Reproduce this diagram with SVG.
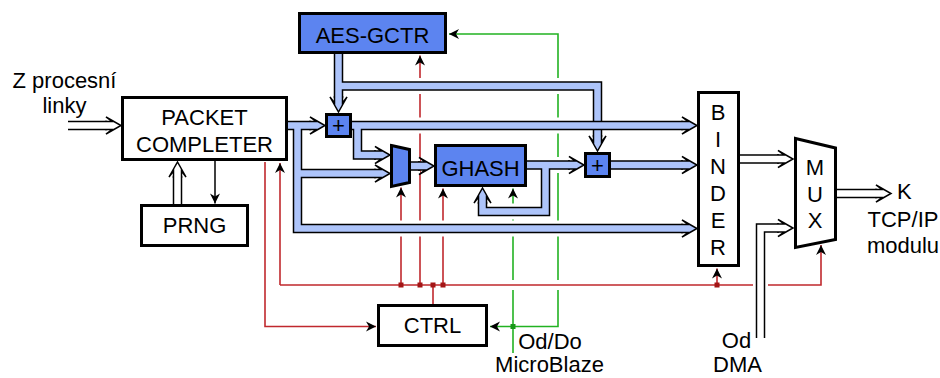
<svg xmlns="http://www.w3.org/2000/svg" width="940" height="378" viewBox="0 0 940 378">
<style>
.bx{fill:#fff;stroke:#000;stroke-width:3}
.bb{fill:#5c84f0;stroke:#000;stroke-width:3}
.t{font-family:"Liberation Sans",Arial,sans-serif;font-size:22px;fill:#000}
.m{text-anchor:middle}
.halo{fill:none;stroke:#fff;stroke-width:16}
.bk{fill:none;stroke:#000;stroke-width:9.5}
.bl{fill:none;stroke:#adc4fa;stroke-width:6.5}
.wh{fill:none;stroke:#fff;stroke-width:6.5}
.r{fill:none;stroke:#c0282d;stroke-width:1.6}
.g{fill:none;stroke:#22b222;stroke-width:1.6}
.jr{fill:#a31515}
.jg{fill:#189818}
</style>
<defs>
<marker id="ma" viewBox="-11 -6 12 12" refX="0" refY="0" markerWidth="12" markerHeight="12" markerUnits="userSpaceOnUse" orient="auto">
<path d="M0,0 L-10,-5 L-7,0 L-10,5Z" fill="#000"/>
</marker>
<path id="ahb" d="M-16,-4 L-9,-4 L-15,-8.5 L0,0 L-15,8.5 L-9,4 L-16,4" fill="#adc4fa" stroke="#000" stroke-width="1.5"/>
<path id="ahw" d="M-16,-4 L-9,-4 L-15,-8.5 L0,0 L-15,8.5 L-9,4 L-16,4" fill="#fff" stroke="#000" stroke-width="1.5"/>
</defs>

<g id="connectors">
<!-- green control lines -->
<path class="g" d="M558,280 L558,34 L449,34" marker-end="url(#ma)"/>
<path class="g" d="M558,290 L558,326.5 L490,326.5" marker-end="url(#ma)"/>
<path class="g" d="M513,353 L513,290"/>
<path class="g" d="M513,280 L513,188.5" marker-end="url(#ma)"/>
<rect class="jg" x="510.5" y="324" width="5" height="5"/>
<!-- red control lines -->
<path class="r" d="M265,162 L265,326.5 L376,326.5" marker-end="url(#ma)"/>
<path class="r" d="M280,285 L280,163" marker-end="url(#ma)"/>
<path class="r" d="M280,285 L821,285 L821,245" marker-end="url(#ma)"/>
<path class="r" d="M401,285 L401,187.5" marker-end="url(#ma)"/>
<path class="r" d="M420,285 L420,55.5" marker-end="url(#ma)"/>
<path class="r" d="M433,285 L433,304"/>
<path class="r" d="M443,285 L443,188.5" marker-end="url(#ma)"/>
<path class="r" d="M717,285 L717,268.5" marker-end="url(#ma)"/>
<rect class="jr" x="398.5" y="282.5" width="5" height="5"/>
<rect class="jr" x="417.5" y="282.5" width="5" height="5"/>
<rect class="jr" x="430.5" y="282.5" width="5" height="5"/>
<rect class="jr" x="440.5" y="282.5" width="5" height="5"/>
<rect class="jr" x="714.5" y="282.5" width="5" height="5"/>
<!-- black line PACKET -> PRNG -->
<path d="M215,161 L215,203.5" fill="none" stroke="#000" stroke-width="1.5" marker-end="url(#ma)"/>

<!-- bus halos -->
<path class="halo" d="M338.5,54 L338.5,98 M338.5,86 L597.5,86 L597.5,137"/>
<path class="halo" d="M288,125.5 L311,125.5 M352,125.5 L683,125.5 M297.5,125.5 L297.5,228.5 L683,228.5 M297.5,173.5 L376,173.5 M357.5,125.5 L357.5,155 L376,155 M411,166 L420,166 M527,165 L570,165 M545.5,165 L545.5,211.5 L482.5,211.5 L482.5,202 M611,165 L683,165"/>
<path d="M760.5,300 L760.5,268" fill="none" stroke="#fff" stroke-width="15"/>

<!-- AES output buses (underneath row 1) -->
<path class="bk" d="M338.5,54 L338.5,98 M338.5,86 L597.5,86 L597.5,137"/>
<path class="bl" d="M338.5,54 L338.5,98 M338.5,86 L597.5,86 L597.5,137"/>
<!-- other blue buses -->
<path class="bk" d="M288,125.5 L311,125.5 M352,125.5 L683,125.5 M297.5,125.5 L297.5,228.5 L683,228.5 M297.5,173.5 L376,173.5 M357.5,125.5 L357.5,155 L376,155 M411,166 L420,166 M527,165 L570,165 M545.5,165 L545.5,211.5 L482.5,211.5 L482.5,202 M611,165 L683,165"/>
<path class="bl" d="M288,125.5 L311,125.5 M352,125.5 L683,125.5 M297.5,125.5 L297.5,228.5 L683,228.5 M297.5,173.5 L376,173.5 M357.5,125.5 L357.5,155 L376,155 M411,166 L420,166 M527,165 L570,165 M545.5,165 L545.5,211.5 L482.5,211.5 L482.5,202 M611,165 L683,165"/>
<!-- white buses -->
<path class="bk" d="M68,125.5 L107,125.5 M177.5,204 L177.5,176 M740,159 L779,159 M837,193.5 L877,193.5 M760.5,338 L760.5,228 L779,228"/>
<path class="wh" d="M68,125.5 L107,125.5 M177.5,204 L177.5,176 M740,159 L779,159 M837,193.5 L877,193.5 M760.5,338 L760.5,228 L779,228"/>
</g>

<g id="packet-completer">
<rect class="bx" x="122.5" y="97.5" width="164" height="62"/>
<text class="t m" x="204.5" y="125">PACKET</text>
<text class="t m" x="204.5" y="152">COMPLETER</text>
</g>
<g id="prng">
<rect class="bx" x="141.5" y="205.5" width="106" height="40"/>
<text class="t m" x="194.5" y="233">PRNG</text>
</g>
<g id="aes-gctr">
<rect class="bb" x="299.5" y="13.5" width="146" height="39"/>
<text class="t m" x="372.5" y="43">AES-GCTR</text>
</g>
<g id="add1">
<rect class="bb" x="326.5" y="114.5" width="24" height="22"/>
<text class="t m" x="338.5" y="133">+</text>
</g>
<g id="mux-small">
<polygon class="bb" points="391.5,145.5 409.5,149.5 409.5,182.5 391.5,186.5"/>
</g>
<g id="ghash">
<rect class="bb" x="435.5" y="145.5" width="90" height="40"/>
<text class="t m" x="480.5" y="176">GHASH</text>
</g>
<g id="add2">
<rect class="bb" x="585.5" y="153.5" width="24" height="23"/>
<text class="t m" x="597.5" y="172.5">+</text>
</g>
<g id="binder">
<rect class="bx" x="698.5" y="92.5" width="40" height="173"/>
<text class="t m" x="718" y="120">B</text>
<text class="t m" x="718" y="147">I</text>
<text class="t m" x="718" y="174">N</text>
<text class="t m" x="718" y="201">D</text>
<text class="t m" x="718" y="228">E</text>
<text class="t m" x="718" y="255">R</text>
</g>
<g id="mux">
<polygon class="bx" points="795.5,138.5 835.5,148 835.5,239.5 795.5,247.5"/>
<text class="t m" x="815" y="175">M</text>
<text class="t m" x="815" y="202">U</text>
<text class="t m" x="815" y="228">X</text>
</g>
<g id="ctrl">
<rect class="bx" x="378.5" y="305.5" width="108" height="40"/>
<text class="t m" x="432.5" y="333">CTRL</text>
</g>

<g id="bus-arrowheads">
<use href="#ahw" transform="translate(121,125.5)"/>
<use href="#ahw" transform="translate(177.5,162) rotate(-90)"/>
<use href="#ahw" transform="translate(793,159)"/>
<use href="#ahw" transform="translate(891,193.5)"/>
<use href="#ahw" transform="translate(793,228)"/>
<use href="#ahb" transform="translate(325,125.5)"/>
<use href="#ahb" transform="translate(697,125.5)"/>
<use href="#ahb" transform="translate(697,228.5)"/>
<use href="#ahb" transform="translate(390,173.5)"/>
<use href="#ahb" transform="translate(390,155)"/>
<use href="#ahb" transform="translate(338.5,112) rotate(90)"/>
<use href="#ahb" transform="translate(597.5,151) rotate(90)"/>
<use href="#ahb" transform="translate(434,166)"/>
<use href="#ahb" transform="translate(584,165)"/>
<use href="#ahb" transform="translate(482.5,188) rotate(-90)"/>
<use href="#ahb" transform="translate(697,165)"/>
</g>

<g id="labels">
<text class="t m" x="64.5" y="88">Z procesní</text>
<text class="t m" x="64.5" y="113">linky</text>
<text class="t" x="897" y="199">K</text>
<text class="t m" x="903" y="227">TCP/IP</text>
<text class="t m" x="903" y="253">modulu</text>
<text class="t m" x="550" y="349">Od/Do</text>
<text class="t m" x="549.5" y="372">MicroBlaze</text>
<text class="t m" x="736.5" y="348">Od</text>
<text class="t m" x="737.5" y="372">DMA</text>
</g>
</svg>
